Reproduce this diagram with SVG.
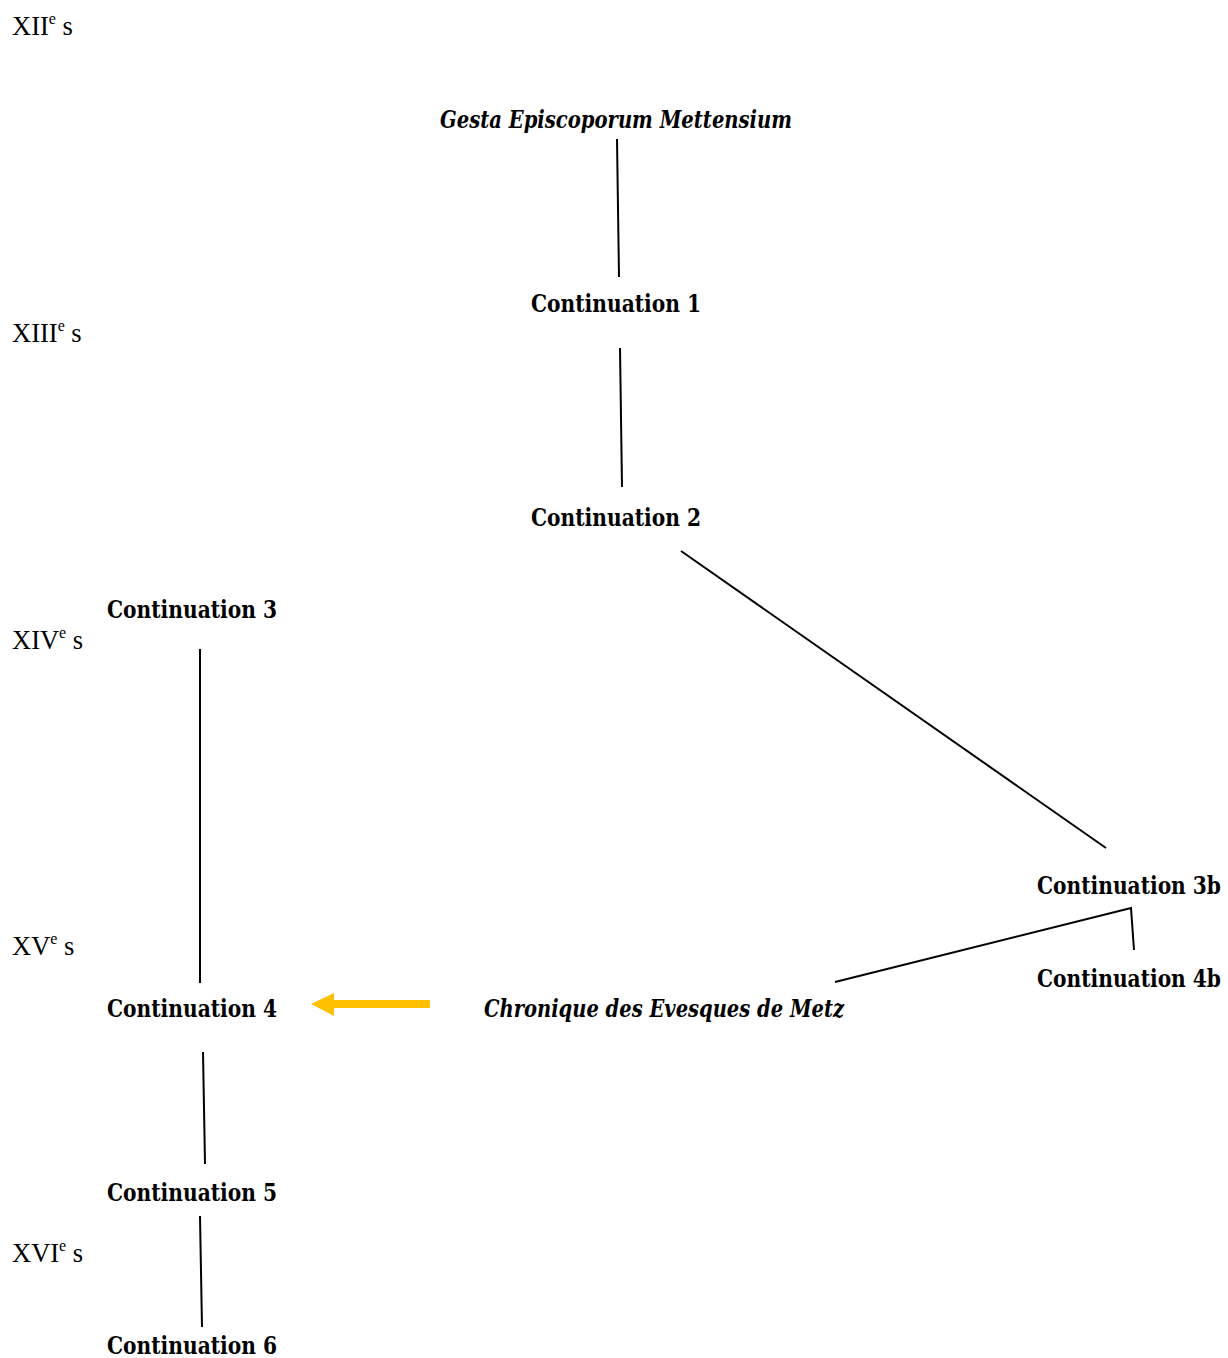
<svg xmlns="http://www.w3.org/2000/svg" width="1228" height="1358" viewBox="0 0 1228 1358">
<style>
text{font-family:"Liberation Serif","Times New Roman",serif;font-size:26.5px;fill:#000}
.n{font-family:"DejaVu Serif","Liberation Serif",serif;font-weight:bold;text-anchor:middle;font-size:24px}
.r{text-anchor:end}
.i{font-style:italic}
.sup{font-size:16px}
.c line,.c polyline{stroke:#000;stroke-width:2;fill:none}
</style>
<rect width="1228" height="1358" fill="#fff"/>
<g id="centuries">
<text x="12" y="35">XII<tspan class="sup" dy="-11">e</tspan><tspan dy="11"> s</tspan></text>
<text x="12" y="342">XIII<tspan class="sup" dy="-11">e</tspan><tspan dy="11"> s</tspan></text>
<text x="12" y="649">XIV<tspan class="sup" dy="-11">e</tspan><tspan dy="11"> s</tspan></text>
<text x="12" y="955">XV<tspan class="sup" dy="-11">e</tspan><tspan dy="11"> s</tspan></text>
<text x="12" y="1262">XVI<tspan class="sup" dy="-11">e</tspan><tspan dy="11"> s</tspan></text>
</g>
<g id="gesta"><text class="n i" x="616" y="128" textLength="352" lengthAdjust="spacingAndGlyphs">Gesta Episcoporum Mettensium</text></g>
<g id="cont1"><text class="n" x="616" y="312" textLength="170" lengthAdjust="spacingAndGlyphs">Continuation 1</text></g>
<g id="cont2"><text class="n" x="616" y="526" textLength="170" lengthAdjust="spacingAndGlyphs">Continuation 2</text></g>
<g id="cont3"><text class="n" x="192" y="618" textLength="170" lengthAdjust="spacingAndGlyphs">Continuation 3</text></g>
<g id="cont3b"><text class="n r" x="1221" y="894" textLength="184" lengthAdjust="spacingAndGlyphs">Continuation 3b</text></g>
<g id="cont4b"><text class="n r" x="1221" y="987" textLength="184" lengthAdjust="spacingAndGlyphs">Continuation 4b</text></g>
<g id="cont4"><text class="n" x="192" y="1017" textLength="170" lengthAdjust="spacingAndGlyphs">Continuation 4</text></g>
<g id="chronique"><text class="n i" x="664" y="1017" textLength="360" lengthAdjust="spacingAndGlyphs">Chronique des Evesques de Metz</text></g>
<g id="cont5"><text class="n" x="192" y="1201" textLength="170" lengthAdjust="spacingAndGlyphs">Continuation 5</text></g>
<g id="cont6"><text class="n" x="192" y="1354" textLength="170" lengthAdjust="spacingAndGlyphs">Continuation 6</text></g>
<g id="connectors" class="c">
<line x1="617" y1="139" x2="619" y2="277"/>
<line x1="620" y1="348" x2="622" y2="487"/>
<line x1="681" y1="551" x2="1106" y2="848"/>
<line x1="200" y1="649" x2="200" y2="983"/>
<polyline points="835,982 1131,908 1134,950"/>
<line x1="203" y1="1052" x2="205" y2="1164"/>
<line x1="200" y1="1216" x2="202" y2="1327"/>
<polygon points="430,1000 334,1000 334,993 311,1004 334,1016 334,1008 430,1008" fill="#FFC000" stroke="none"/>
</g>
</svg>
